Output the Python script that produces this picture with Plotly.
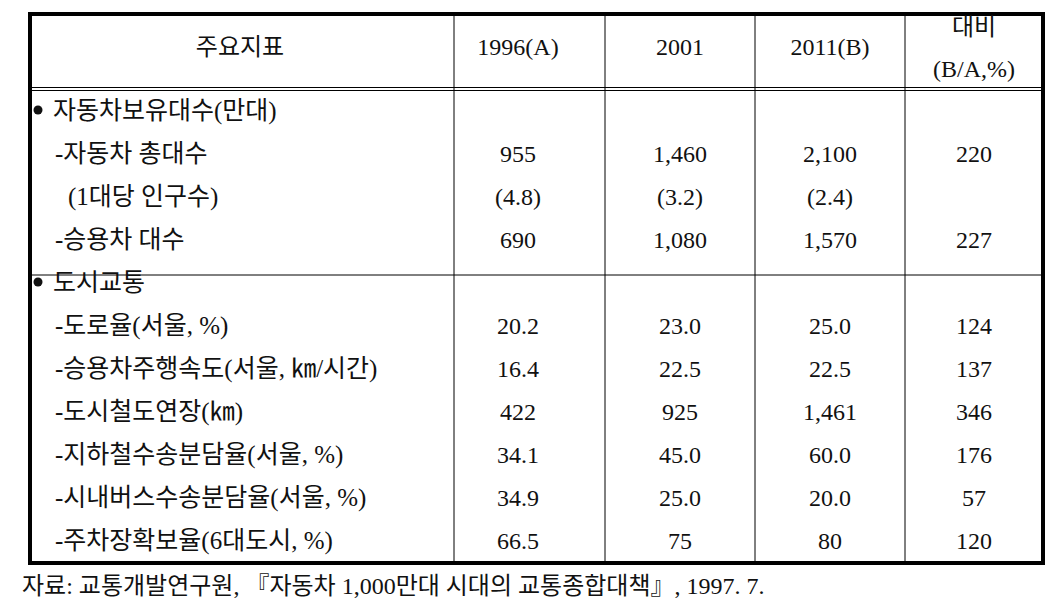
import plotly.graph_objects as go

# table contents
headers = ["주요지표", "1996(A)", "2001", "2011(B)", "대비", "(B/A,%)"]
indicators = [
    "자동차보유대수(만대)",
    "-자동차 총대수",
    "(1대당 인구수)",
    "-승용차 대수",
    "도시교통",
    "-도로율(서울, %)",
    "-승용차주행속도(서울, ㎞/시간)",
    "-도시철도연장(㎞)",
    "-지하철수송분담율(서울, %)",
    "-시내버스수송분담율(서울, %)",
    "-주차장확보율(6대도시, %)",
]
is_section = [True, False, False, False, True, False, False, False, False, False, False]
y1996 = ["", "955", "(4.8)", "690", "", "20.2", "16.4", "422", "34.1", "34.9", "66.5"]
y2001 = ["", "1,460", "(3.2)", "1,080", "", "23.0", "22.5", "925", "45.0", "25.0", "75"]
y2011 = ["", "2,100", "(2.4)", "1,570", "", "25.0", "22.5", "1,461", "60.0", "20.0", "80"]
ratio = ["", "220", "", "227", "", "124", "137", "346", "176", "57", "120"]
source = "자료: 교통개발연구원, 『자동차 1,000만대 시대의 교통종합대책』, 1997. 7."

# layout (pixel units)
W, H = 1056, 608
left, right, top, bottom = 22, 1035, 6, 555
col_lines = [446, 597, 747, 897]
col_centers = [510, 672, 822, 966]
row_top, row_h = 105, 43
indent = [45, 47, 60, 47, 45, 47, 47, 47, 47, 47, 47]
bullet_x = 30
head_line = 81
sect_line = 267

FONT = "Liberation Serif, Times New Roman, Noto Sans CJK KR"
fs_num = 24
fs_lab = 25

row_y = [row_top + i * row_h for i in range(len(indicators))]

fig = go.Figure()

# section bullets
fig.add_trace(go.Scatter(
    x=[bullet_x for s in is_section if s],
    y=[y - 3 for y, s in zip(row_y, is_section) if s],
    mode="markers", marker=dict(symbol="circle", size=9, color="#111", line=dict(width=0)),
    hoverinfo="skip", showlegend=False,
))

fig.add_trace(go.Scatter(
    x=indent, y=row_y, mode="text", text=indicators,
    textposition="middle right",
    textfont=dict(family=FONT, size=fs_lab, color="#111"),
    hoverinfo="skip", showlegend=False,
))

for cx, col in zip(col_centers, [y1996, y2001, y2011, ratio]):
    fig.add_trace(go.Scatter(
        x=[cx] * len(col), y=row_y, mode="text", text=col,
        textposition="middle center",
        textfont=dict(family=FONT, size=fs_num, color="#111"),
        hoverinfo="skip", showlegend=False,
    ))

# header
fig.add_trace(go.Scatter(
    x=[232] + col_centers[:3] + [col_centers[3], col_centers[3]],
    y=[41, 41, 41, 41, 21, 63], mode="text", text=headers,
    textposition="middle center",
    textfont=dict(family=FONT, size=fs_num, color="#111"),
    hoverinfo="skip", showlegend=False,
))

# footer
fig.add_trace(go.Scatter(
    x=[14], y=[580], mode="text", text=[source],
    textposition="middle right",
    textfont=dict(family=FONT, size=24, color="#111"),
    hoverinfo="skip", showlegend=False,
))

line = dict(color="black", width=1)
shapes = []
for x in col_lines:
    shapes.append(dict(type="line", x0=x, x1=x, y0=top, y1=bottom, line=line))
shapes.append(dict(type="line", x0=left, x1=right, y0=head_line - 1.5, y1=head_line - 1.5, line=line))
shapes.append(dict(type="line", x0=left, x1=right, y0=head_line + 1.5, y1=head_line + 1.5, line=line))
shapes.append(dict(type="line", x0=left, x1=right, y0=sect_line, y1=sect_line, line=line))
shapes.append(dict(type="rect", x0=left, x1=right, y0=top, y1=bottom,
                   line=dict(color="black", width=4)))
for s in shapes:
    s.update(xref="x", yref="y", layer="below")

fig.update_layout(
    width=W, height=H,
    margin=dict(l=0, r=0, t=0, b=0),
    paper_bgcolor="white", plot_bgcolor="white",
    xaxis=dict(range=[0, W], visible=False, fixedrange=True),
    yaxis=dict(range=[H, 0], visible=False, fixedrange=True),
    shapes=shapes,
)

fig.write_html("out.html")
